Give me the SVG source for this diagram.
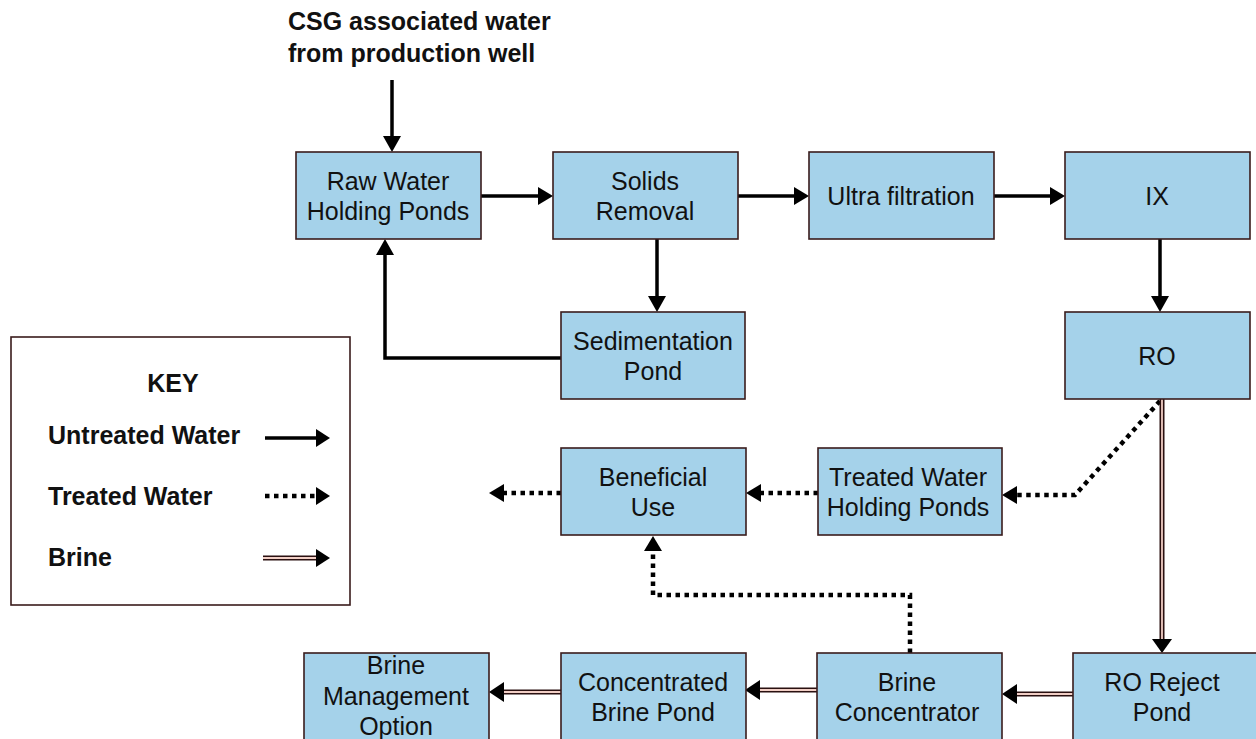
<svg xmlns="http://www.w3.org/2000/svg" width="1256" height="739" viewBox="0 0 1256 739">
<style>
.box{fill:#a5d2ea;stroke:#3a1c1c;stroke-width:1.6}
.t{font-family:"Liberation Sans",Arial,sans-serif;font-size:25px;fill:#111;text-anchor:middle}
.b{font-family:"Liberation Sans",Arial,sans-serif;font-size:25px;font-weight:bold;fill:#111}
.solid{fill:none;stroke:#000;stroke-width:3.5}
.dot{fill:none;stroke:#000;stroke-width:4.5;stroke-dasharray:4.5 4.5}
.brO{fill:none;stroke:#2a1010;stroke-width:5}
.brI{fill:none;stroke:#f2cfc6;stroke-width:1.8}
.ah{fill:#000}
</style>
<rect width="1256" height="739" fill="#fff"/>
<text class="b" x="288" y="30">CSG associated water</text>
<text class="b" x="288" y="62">from production well</text>

<g id="connectors">
  <line class="solid" x1="392" y1="80" x2="392" y2="138"/>
  <polygon class="ah" points="383,136 401,136 392,152"/>
  <line class="solid" x1="481" y1="196" x2="540" y2="196"/>
  <polygon class="ah" points="538,187 538,205 553,196"/>
  <line class="solid" x1="738" y1="196" x2="796" y2="196"/>
  <polygon class="ah" points="794,187 794,205 809,196"/>
  <line class="solid" x1="994" y1="196" x2="1052" y2="196"/>
  <polygon class="ah" points="1050,187 1050,205 1065,196"/>
  <line class="solid" x1="1160" y1="239" x2="1160" y2="298"/>
  <polygon class="ah" points="1151,296 1169,296 1160,312"/>
  <line class="solid" x1="657" y1="239" x2="657" y2="298"/>
  <polygon class="ah" points="648,296 666,296 657,312"/>
  <polyline class="solid" points="561,358 385,358 385,253"/>
  <polygon class="ah" points="376,255 394,255 385,239"/>
  <polyline class="dot" points="1160,401 1075,495 1016,495"/>
  <polygon class="ah" points="1017,486 1017,504 1002,495"/>
  <line class="dot" x1="818" y1="493" x2="760" y2="493"/>
  <polygon class="ah" points="761,484 761,502 746,493"/>
  <line class="dot" x1="561" y1="493" x2="503" y2="493"/>
  <polygon class="ah" points="504,484 504,502 489,493"/>
  <polyline class="dot" points="910,653 910,595 653,595 653,550"/>
  <polygon class="ah" points="644,551 662,551 653,536"/>
  <line class="brO" x1="1162" y1="399" x2="1162" y2="640"/>
  <line class="brI" x1="1162" y1="399" x2="1162" y2="640"/>
  <polygon class="ah" points="1152,639 1172,639 1162,653"/>
  <line class="brO" x1="1073" y1="694" x2="1015" y2="694"/>
  <line class="brI" x1="1073" y1="694" x2="1015" y2="694"/>
  <polygon class="ah" points="1017,684 1017,704 1002,694"/>
  <line class="brO" x1="817" y1="690" x2="758" y2="690"/>
  <line class="brI" x1="817" y1="690" x2="758" y2="690"/>
  <polygon class="ah" points="760,680 760,700 745,690"/>
  <line class="brO" x1="561" y1="692" x2="502" y2="692"/>
  <line class="brI" x1="561" y1="692" x2="502" y2="692"/>
  <polygon class="ah" points="504,682 504,702 489,692"/>
</g>

<g id="raw"><rect class="box" x="296" y="152" width="185" height="87"/>
<text class="t" x="388" y="190">Raw Water</text><text class="t" x="388" y="220">Holding Ponds</text></g>
<g id="solids"><rect class="box" x="553" y="152" width="185" height="87"/>
<text class="t" x="645" y="190">Solids</text><text class="t" x="645" y="220">Removal</text></g>
<g id="uf"><rect class="box" x="809" y="152" width="185" height="87"/>
<text class="t" x="901" y="205">Ultra filtration</text></g>
<g id="ix"><rect class="box" x="1065" y="152" width="185" height="87"/>
<text class="t" x="1157" y="205">IX</text></g>
<g id="sed"><rect class="box" x="561" y="312" width="184" height="87"/>
<text class="t" x="653" y="350">Sedimentation</text><text class="t" x="653" y="380">Pond</text></g>
<g id="ro"><rect class="box" x="1065" y="312" width="185" height="87"/>
<text class="t" x="1157" y="365">RO</text></g>
<g id="beneficial"><rect class="box" x="561" y="448" width="185" height="87"/>
<text class="t" x="653" y="486">Beneficial</text><text class="t" x="653" y="516">Use</text></g>
<g id="treated"><rect class="box" x="818" y="448" width="184" height="87"/>
<text class="t" x="908" y="486">Treated Water</text><text class="t" x="908" y="516">Holding Ponds</text></g>
<g id="brinemgmt"><rect class="box" x="304" y="653" width="185" height="95"/>
<text class="t" x="396" y="674">Brine</text><text class="t" x="396" y="705">Management</text><text class="t" x="396" y="735">Option</text></g>
<g id="concbrine"><rect class="box" x="561" y="653" width="185" height="95"/>
<text class="t" x="653" y="691">Concentrated</text><text class="t" x="653" y="721">Brine Pond</text></g>
<g id="brineconc"><rect class="box" x="817" y="653" width="185" height="95"/>
<text class="t" x="907" y="691">Brine</text><text class="t" x="907" y="721">Concentrator</text></g>
<g id="roreject"><rect class="box" x="1073" y="653" width="190" height="95"/>
<text class="t" x="1162" y="691">RO Reject</text><text class="t" x="1162" y="721">Pond</text></g>

<g id="key">
  <rect x="11" y="337" width="339" height="268" fill="#fff" stroke="#3a1c1c" stroke-width="1.6"/>
  <text class="b" x="173" y="392" text-anchor="middle">KEY</text>
  <text class="b" x="48" y="444">Untreated Water</text>
  <text class="b" x="48" y="505">Treated Water</text>
  <text class="b" x="48" y="566">Brine</text>
  <line class="solid" x1="265" y1="438" x2="318" y2="438"/>
  <polygon class="ah" points="316,429 316,447 330,438"/>
  <line class="dot" x1="265" y1="496" x2="316" y2="496" stroke-width="3.5" stroke-dasharray="3.5 3.5"/>
  <polygon class="ah" points="316,487 316,505 330,496"/>
  <line class="brO" x1="263" y1="558" x2="318" y2="558"/>
  <line class="brI" x1="263" y1="558" x2="318" y2="558"/>
  <polygon class="ah" points="316,549 316,567 330,558"/>
</g>
</svg>
